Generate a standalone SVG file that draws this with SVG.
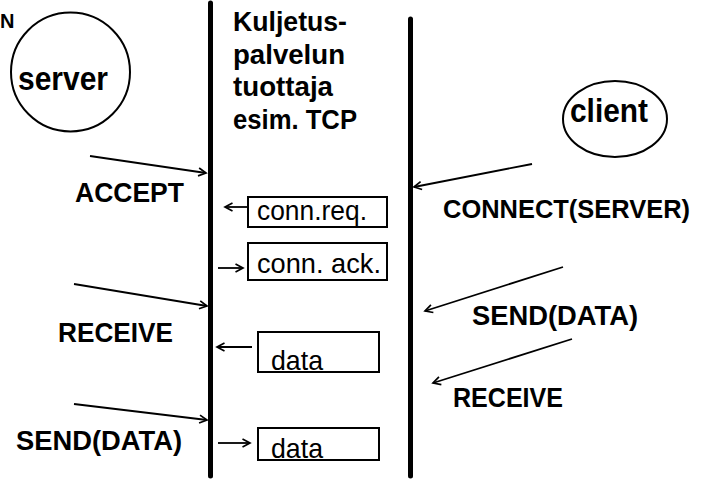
<svg xmlns="http://www.w3.org/2000/svg" width="703" height="479" viewBox="0 0 703 479">
  <defs>
    <marker id="head" markerWidth="12" markerHeight="12" refX="9" refY="6" orient="auto" markerUnits="userSpaceOnUse">
      <path d="M1.5,2 L9,6 L1.5,10" fill="none" stroke="#000" stroke-width="1.7"/>
    </marker>
  </defs>
  <style>
    .bold { font-family: "Liberation Sans", Arial, sans-serif; font-weight: bold; fill: #000; }
    .plain { font-family: "Liberation Sans", Arial, sans-serif; fill: #000; }
    .label { font-size: 27.5px; }
    .title { font-size: 27px; }
    .actor { font-size: 33px; }
    .msgbox { fill: #fff; stroke: #000; stroke-width: 2; }
    .life { stroke: #000; stroke-width: 5; stroke-linecap: round; }
    .conn { stroke: #000; stroke-width: 1.8; fill: none; marker-end: url(#head); }
  </style>
  <rect width="703" height="479" fill="#fff"/>

  <!-- heading fragment in the top-left corner -->
  <text class="bold" x="0" y="28" font-size="20">N</text>

  <!-- lifelines -->
  <g id="lifelines">
    <line class="life" x1="210.5" y1="3" x2="210.5" y2="476"/>
    <line class="life" x1="410.5" y1="19" x2="410.5" y2="476"/>
  </g>

  <g id="server">
    <circle cx="70.5" cy="72" r="59.5" fill="none" stroke="#000" stroke-width="2"/>
    <text class="bold actor" x="18" y="90" textLength="90" lengthAdjust="spacingAndGlyphs">server</text>
  </g>

  <g id="client">
    <ellipse cx="615" cy="119" rx="52" ry="38" fill="none" stroke="#000" stroke-width="2"/>
    <text class="bold actor" x="570" y="122" textLength="78" lengthAdjust="spacingAndGlyphs">client</text>
  </g>

  <g id="provider">
    <text class="bold title" x="233" y="31" textLength="114" lengthAdjust="spacingAndGlyphs">Kuljetus-</text>
    <text class="bold title" x="233" y="63.5" textLength="112" lengthAdjust="spacingAndGlyphs">palvelun</text>
    <text class="bold title" x="233" y="96" textLength="100" lengthAdjust="spacingAndGlyphs">tuottaja</text>
    <text class="bold title" x="233" y="128.5" textLength="124" lengthAdjust="spacingAndGlyphs">esim. TCP</text>
  </g>

  <g id="msg-connreq">
    <rect class="msgbox" x="248" y="197" width="139" height="30"/>
    <text class="plain label" x="257" y="220" textLength="110" lengthAdjust="spacingAndGlyphs">conn.req.</text>
  </g>
  <g id="msg-connack">
    <rect class="msgbox" x="248" y="243" width="139" height="37"/>
    <text class="plain label" x="257" y="273" textLength="124" lengthAdjust="spacingAndGlyphs">conn. ack.</text>
  </g>
  <g id="msg-data1">
    <rect class="msgbox" x="258" y="332" width="121" height="40"/>
    <text class="plain label" x="271" y="370" textLength="52" lengthAdjust="spacingAndGlyphs">data</text>
  </g>
  <g id="msg-data2">
    <rect class="msgbox" x="258" y="428" width="121" height="32"/>
    <text class="plain label" x="271" y="458" textLength="52" lengthAdjust="spacingAndGlyphs">data</text>
  </g>

  <g id="server-labels">
    <text class="bold label" x="75" y="202" textLength="109" lengthAdjust="spacingAndGlyphs">ACCEPT</text>
    <text class="bold label" x="58" y="342" textLength="115" lengthAdjust="spacingAndGlyphs">RECEIVE</text>
    <text class="bold label" x="16" y="450" textLength="166" lengthAdjust="spacingAndGlyphs">SEND(DATA)</text>
  </g>

  <g id="client-labels">
    <text class="bold" x="443" y="218" font-size="25.4" textLength="247" lengthAdjust="spacingAndGlyphs">CONNECT(SERVER)</text>
    <text class="bold label" x="472" y="325" textLength="166" lengthAdjust="spacingAndGlyphs">SEND(DATA)</text>
    <text class="bold label" x="453" y="407" textLength="110" lengthAdjust="spacingAndGlyphs">RECEIVE</text>
  </g>

  <!-- connectors -->
  <g id="connectors">
    <line class="conn" x1="90" y1="156" x2="206" y2="173"/>
    <line class="conn" x1="74" y1="284" x2="207" y2="306"/>
    <line class="conn" x1="74" y1="404" x2="207" y2="420"/>
    <line class="conn" x1="532" y1="164" x2="414" y2="187"/>
    <line class="conn" x1="563" y1="267" x2="425" y2="311"/>
    <line class="conn" x1="572" y1="339" x2="433" y2="383"/>
    <line class="conn" x1="248" y1="207" x2="225" y2="207"/>
    <line class="conn" x1="218" y1="268" x2="243" y2="268"/>
    <line class="conn" x1="252" y1="347" x2="217" y2="347"/>
    <line class="conn" x1="218" y1="443" x2="250" y2="443"/>
  </g>
</svg>
